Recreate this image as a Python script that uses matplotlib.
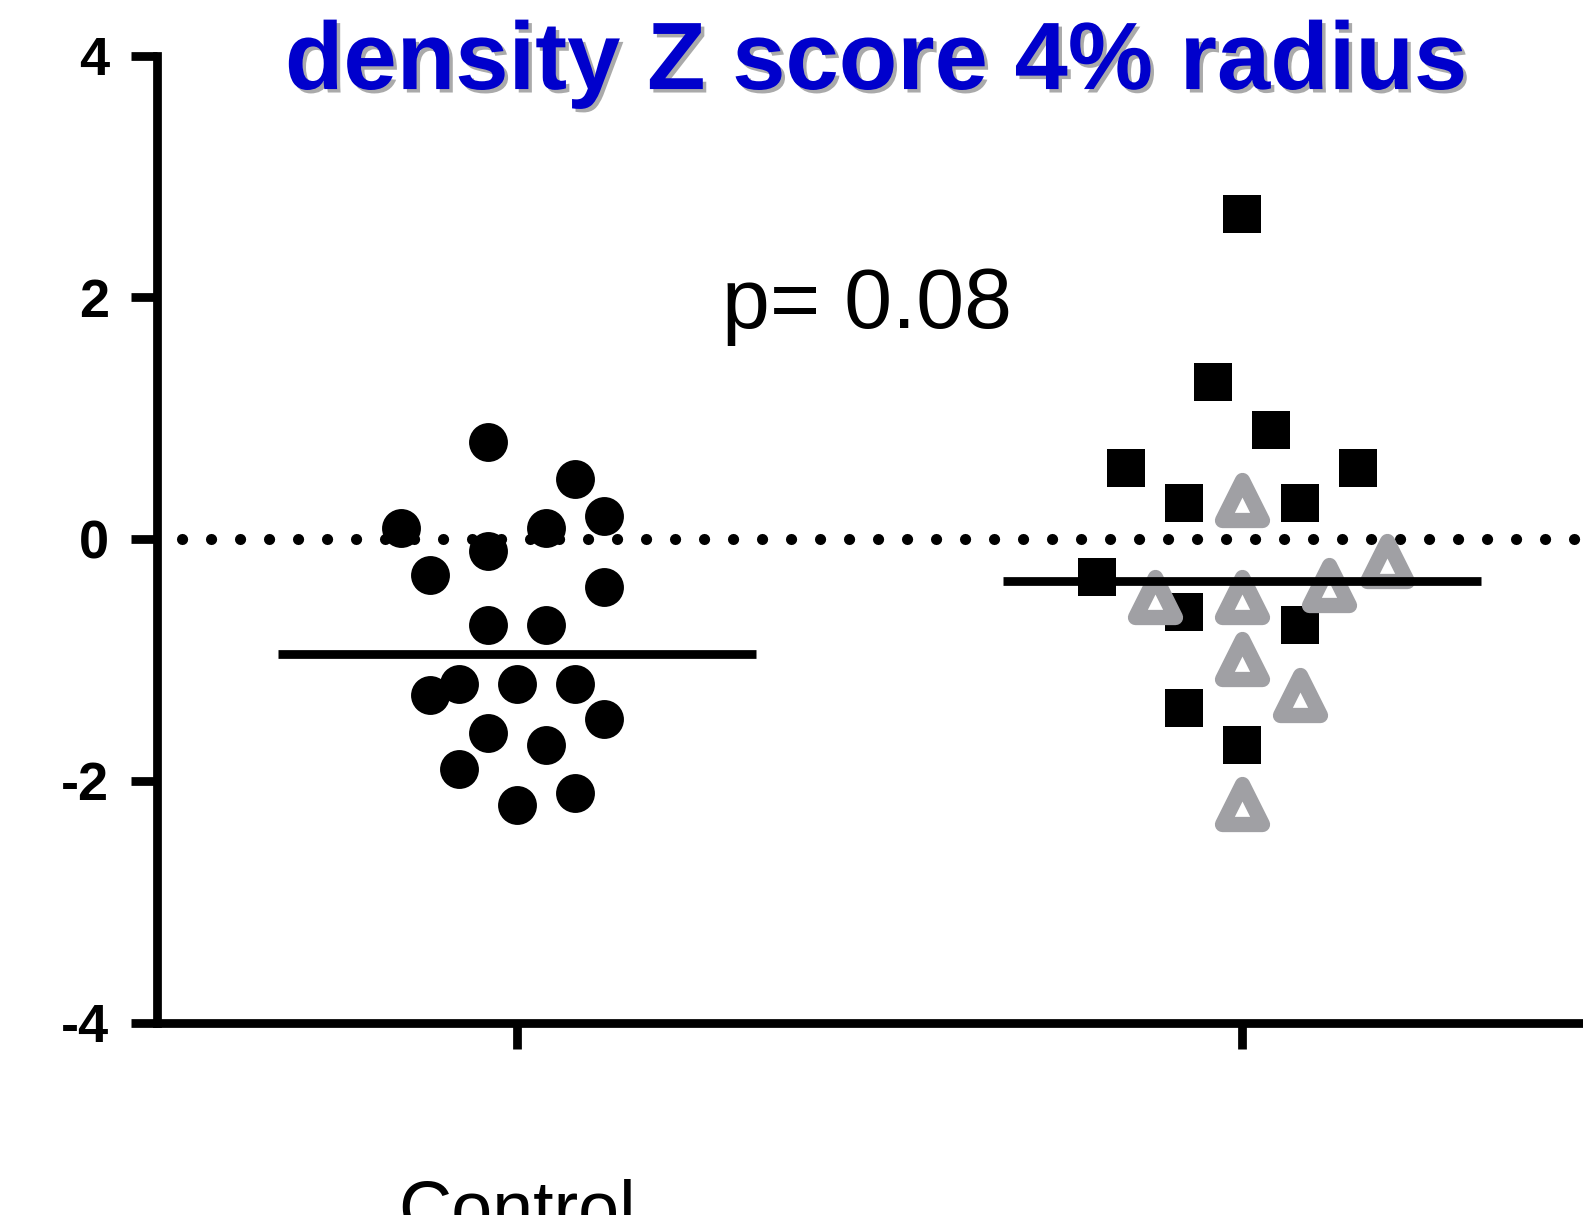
import numpy as np
import matplotlib
matplotlib.use("Agg")
import matplotlib.pyplot as plt
import matplotlib.patheffects as pe
import matplotlib.transforms as mtransforms
from matplotlib.markers import MarkerStyle

# values
control_y = [0.80, 0.50, 0.09, 0.09, 0.19, -0.10, -0.30, -0.40, -0.71, -0.71,
             -1.29, -1.20, -1.20, -1.20, -1.49, -1.60, -1.70, -1.90, -2.20, -2.10]
control_slot = [-1, 2, -4, 1, 3, -1, -3, 3, -1, 1,
                -3, -2, 0, 2, 3, -1, 1, -2, 0, 2]

square_y = [2.69, 1.30, 0.90, 0.59, 0.59, 0.30, 0.30, -0.31, -0.60, -0.71, -1.40, -1.70]
square_slot = [0, -1, 1, -4, 4, -2, 2, -5, -2, 2, -2, 0]

triangle_y = [0.32, -0.48, -0.48, -0.38, -0.18, -0.99, -1.29, -2.19]
triangle_slot = [0, -3, 0, 3, 5, 0, 2, 0]

group_means = [-0.95, -0.35]
group_labels = ["Control", ""]
yticks = [-4, -2, 0, 2, 4]
ytick_labels = ["-4", "-2", "0", "2", "4"]
title = "density Z score 4% radius"
p_text = "p= 0.08"

slot_w = 0.04
half_w = 0.33
lw = 6.3

fig = plt.figure(figsize=(15.83, 12.15), dpi=100)
ax = fig.add_axes([0.0989, 0.1583, 0.9011, 0.796])
ax.set_xlim(-0.497, 1.470)
ax.set_ylim(-4, 4)

for s in ["top", "right"]:
    ax.spines[s].set_visible(False)
for s in ["left", "bottom"]:
    ax.spines[s].set_linewidth(lw)

# dotted reference line at zero
ref = ax.axhline(0, xmin=0.018, color="k", lw=8, ls=(0, (0.01, 2.6)), zorder=1)
ref.set_dash_capstyle("round")

ax.plot(0 + np.array(control_slot) * slot_w, control_y, "o", color="k",
        ms=28, mew=0, ls="none", zorder=3)
ax.plot(1 + np.array(square_slot) * slot_w, square_y, "s", color="k",
        ms=27.5, mew=0, ls="none", zorder=3)
ax.plot(1 + np.array(triangle_slot) * slot_w, triangle_y,
        marker=MarkerStyle("^", joinstyle="round"), color="#a0a0a4",
        mfc="white", mec="#a0a0a4", ms=29, mew=11, ls="none", zorder=3)

xs = np.arange(len(group_means))
ax.hlines(group_means, xs - half_w, xs + half_w, colors="k", lw=lw, zorder=4)

ax.set_xticks(xs)
ax.set_xticklabels([])
ax.set_yticks(yticks)
ax.set_yticklabels(ytick_labels, family="Liberation Sans", fontweight="bold", fontsize=39)
ax.tick_params(axis="both", direction="out", length=19, width=lw, pad=15)

lab_tr = mtransforms.blended_transform_factory(ax.transData, fig.transFigure)
for x, lab in zip(xs, group_labels):
    ax.text(x, -0.0148, lab, transform=lab_tr, ha="center", va="baseline",
            fontsize=53, family="Liberation Sans", clip_on=False)

ax.text(0.283, 1.745, p_text, ha="left", va="baseline", fontsize=62,
        family="Liberation Sans")

fig.text(0.5535, 0.9267, title, ha="center", va="baseline", fontsize=69,
         fontweight="bold", family="Liberation Sans", color="#0000cc",
         path_effects=[pe.withSimplePatchShadow(offset=(2.5, -2.5),
                                                shadow_rgbFace="#444444", alpha=0.45)])

fig.savefig("out.png", dpi=100)
